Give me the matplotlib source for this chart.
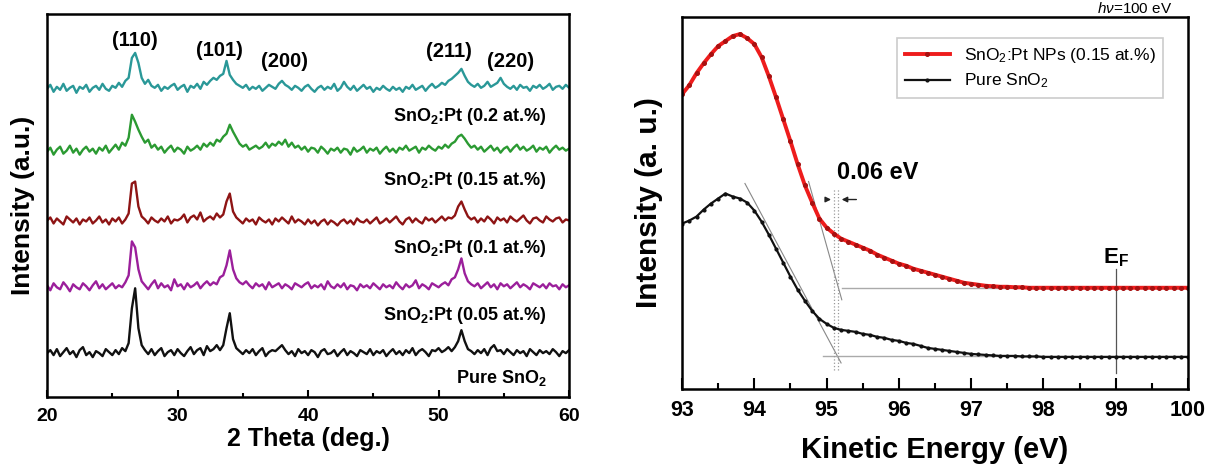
import numpy as np
import matplotlib
matplotlib.use("Agg")
import matplotlib.pyplot as plt
from matplotlib.ticker import MultipleLocator

plt.rcParams["font.family"] = ["Liberation Sans", "DejaVu Sans"]
plt.rcParams["mathtext.fontset"] = "custom"
plt.rcParams["mathtext.rm"] = "Liberation Sans"
plt.rcParams["mathtext.it"] = "Liberation Sans:italic"
plt.rcParams["mathtext.bf"] = "Liberation Sans:bold"
plt.rcParams["mathtext.default"] = "regular"


# -----------------------------
# XRD data (intensity above each trace baseline, a.u.)
# -----------------------------

two_theta = np.linspace(20, 60, 161)

xrd_pure = [
    0, 3, -2, 4, -3, 1, 5, -1, 2, -4,
    3, 6, -2, 1, -4, 2, 0, -3, 4, 1,
    -2, 3, -1, 5, 2, 10, 45, 65, 25, 8,
    3, -1, 4, -2, 2, 5, -3, 1, 3, -2,
    4, 0, -3, 2, 6, -1, 3, 5, -2, 7,
    2, 4, 8, 3, 8, 25, 40, 14, 5, 2,
    -1, 3, 0, 4, -2, 2, 5, -3, 1, 3,
    2, 5, 8, 3, -1, 2, -3, 4, 0, 2,
    -2, 3, 1, -4, 2, 4, -1, 0, 3, -3,
    1, 4, -2, 2, 0, -3, 3, 1, -1, 4,
    -2, 2, 0, 3, -3, 1, 4, -1, 2, -2,
    3, 0, 5, -2, 2, 4, 1, -3, 3, 2,
    5, 1, 3, 6, 2, 6, 12, 23, 12, 4,
    2, -1, 3, 0, 4, -2, 5, 8, 2, 3,
    -1, 4, 1, -2, 3, 0, 2, -3, 4, 1,
    -2, 3, 0, 2, -1, 4, 1, -3, 2, 0, 3,
]
xrd_pt005 = [
    2, -3, 4, 0, -2, 5, 1, -4, 3, 0,
    -2, 4, 1, -3, 2, 6, -1, 3, -2, 1,
    4, -1, 2, 0, 5, 12, 46, 40, 18, 6,
    2, -2, 3, 7, -1, 4, 0, 2, -3, 8,
    1, 3, -2, 4, 0, 2, 5, -1, 3, 6,
    2, 5, 3, 10, 12, 22, 37, 18, 9, 5,
    3, 6, 2, -1, 4, 1, 3, -2, 5, 0,
    2, 4, -1, 3, 1, -2, 4, 2, 0, 3,
    5, -1, 2, 0, 3, -2, 6, 1, -1, 3,
    0, 4, -2, 2, 1, -3, 3, 0, 2, -1,
    4, 1, -2, 3, 0, 2, -1, 5, 1, -2,
    3, 0, 2, 7, -1, 3, 1, -2, 4, 2,
    0, 3, 5, 2, 8, 10, 18, 29, 14, 6,
    3, 1, 4, -1, 2, 5, 0, 3, -2, 4,
    1, 3, -1, 2, 5, 0, 3, 1, -2, 4,
    2, 0, 3, -1, 4, 1, 2, -2, 3, 0, 2,
]
xrd_pt01 = [
    1, 4, -2, 3, 0, -3, 5, 2, -1, 3,
    -3, 2, 0, 4, -2, 1, 5, -1, 2, -3,
    3, 0, 4, -2, 2, 8, 38, 40, 15, 5,
    2, -2, 4, 1, -1, 3, 0, 5, -2, 2,
    1, 3, 7, -1, 4, 6, 2, 9, 0, 3,
    5, 2, 8, 4, 7, 20, 28, 10, 4, 1,
    -2, 3, 0, 2, -3, 4, 1, -1, 2, -3,
    3, 0, 4, 1, -2, 5, -1, 2, 0, -3,
    2, -2, 1, -4, 0, 2, -3, 1, -1, -4,
    0, 2, -2, 1, -3, 3, 0, -1, 2, -2,
    1, 4, -2, 0, 3, -1, 2, 5, 0, -3,
    2, 4, -1, 3, 0, -2, 4, 1, 3, -1,
    2, 5, 1, 4, 3, 6, 15, 20, 12, 5,
    2, 4, -1, 3, 0, 5, 2, -2, 4, 1,
    3, -1, 5, 2, 0, 3, 6, 1, -2, 3,
    4, 1, -1, 5, 2, 0, 3, 4, -1, 2, 1,
]
xrd_pt015 = [
    0, 4, -3, 2, 5, -2, 1, 6, -1, 3,
    -3, 2, 5, 0, 3, -2, 4, 1, 6, -1,
    3, 7, 2, 9, 6, 14, 37, 30, 22, 15,
    9, 12, 4, 7, 2, 5, -1, 3, 6, 0,
    4, 2, -2, 5, 1, 3, 6, 2, 8, 5,
    9, 6, 12, 10, 15, 18, 27, 20, 14, 8,
    5, 7, 2, 4, 6, 3, 5, 9, 4, 8,
    6, 10, 7, 12, 5, 9, 4, 6, 2, 5,
    0, 4, 3, -1, 5, 2, -2, 3, 1, 4,
    -1, 3, 2, -3, 4, 0, 2, 5, -1, 3,
    1, 4, -2, 2, 5, 0, 3, -1, 4, 2,
    6, 1, 3, 5, -1, 4, 2, 6, 3, 1,
    5, 3, 7, 4, 8, 10, 15, 17, 13, 8,
    4, 6, 2, 5, 0, 3, 6, 1, 4, -1,
    3, 5, 0, 4, 7, 2, 5, 1, 3, 6,
    0, 4, 2, 5, -1, 3, 6, 2, 4, 1, 3,
]
xrd_pt02 = [
    1, 5, -2, 3, 0, 6, -1, 2, 4, -3,
    3, 1, 5, -2, 2, 4, 0, 6, 1, -1,
    4, 2, 7, 3, 9, 12, 32, 37, 27, 12,
    6, 10, 4, 2, 5, -1, 3, 1, 4, 6,
    0, 3, 5, -2, 4, 2, 6, 1, 8, 5,
    9, 12, 10, 14, 16, 29, 15, 10, 6, 4,
    2, 5, 0, 3, 1, 4, -1, 2, 5, 3,
    1, 6, 9, 5, 3, 0, 4, 2, -1, 3,
    5, 1, -2, 2, 4, 0, 3, 1, 6, -1,
    2, 8, 3, 0, 4, -1, 2, 5, 1, 3,
    -2, 2, 0, 4, 1, -1, 3, 0, 2, -2,
    3, 1, 5, 0, 2, 4, -1, 3, 6, 2,
    4, 7, 5, 9, 11, 14, 17, 21, 14, 8,
    5, 3, 6, 2, 4, 8, 3, 5, 7, 12,
    6, 3, 1, 4, 0, 5, 2, 3, -1, 4,
    2, 5, 1, 3, 6, 0, 3, 4, 1, 5, 2,
]

xrd_series = [xrd_pure, xrd_pt005, xrd_pt01, xrd_pt015, xrd_pt02]
xrd_colors = ["#111111", "#9b1f9b", "#8e1414", "#2b9a32", "#2a9898"]
xrd_offsets = [44, 110, 176, 246, 308]

sample_labels = ["Pure SnO$_2$", "SnO$_2$:Pt (0.05 at.%)", "SnO$_2$:Pt (0.1 at.%)",
                 "SnO$_2$:Pt (0.15 at.%)", "SnO$_2$:Pt (0.2 at.%)"]
sample_label_y = [19, 82, 149, 217, 281]

peak_labels = ["(110)", "(101)", "(200)", "(211)", "(220)"]
peak_label_x = [26.7, 33.2, 38.2, 50.8, 55.5]
peak_label_y = [357, 347, 336, 346, 336]


# -----------------------------
# UPS data
# -----------------------------

energy = np.linspace(93, 100, 71)

ups_pt = [
    294, 303, 315, 325, 334, 342, 347, 352, 354, 350,
    344, 331, 312, 291, 269, 247, 224, 203, 186, 170,
    161, 155, 150, 147, 144, 141, 138, 134, 131, 128,
    125, 123, 120, 118, 116, 114, 112, 110, 108, 106,
    105, 104, 103, 102.5, 102, 102, 101.5, 101.5, 101, 101,
    101, 101, 101, 101, 101, 101, 101, 101, 101, 101,
    101, 101, 101, 101, 101, 101, 101, 101, 101, 101,
    101,
]
ups_pure = [
    165, 168, 172, 179, 185, 190, 195, 192, 190, 186,
    178, 167, 154, 140, 126, 112, 99, 88, 78, 70,
    65, 61, 59, 58, 57, 55, 54, 52, 51, 49,
    48, 46, 45, 43, 41, 40, 39, 38, 37, 36,
    35, 34.5, 34, 33.5, 33, 33, 33, 32.5, 32.5, 32.5,
    32, 32, 32, 32, 32, 32, 32, 32, 32, 32,
    32, 32, 32, 32, 32, 32, 32, 32, 32, 32,
    32,
]

pt_tangent_x = [94.75, 95.21]
pt_tangent_y = [207, 89]
pure_tangent_x = [93.87, 95.2]
pure_tangent_y = [205, 26]
pt_base_x = [95.21, 100]
pt_base_y = [101, 101]
pure_base_x = [94.95, 100]
pure_base_y = [33, 33]
onset_x = [95.10, 95.16]
onset_y = [19, 199]
fermi_x = 99.0
fermi_y = [16, 120]


fig = plt.figure(figsize=(12.16, 4.72), dpi=100)

# -----------------------------
# Left: XRD patterns
# -----------------------------

ax1 = fig.add_axes([0.0387, 0.1589, 0.4293, 0.8114])
for values, color, offset in zip(xrd_series, xrd_colors, xrd_offsets):
    ax1.plot(two_theta, np.array(values) + offset, color=color, lw=1.7)

for label, y in zip(sample_labels, sample_label_y):
    ax1.text(58.25, y, label, ha="right", va="center", fontsize=13, fontweight="bold")
for label, x, y in zip(peak_labels, peak_label_x, peak_label_y):
    ax1.text(x, y, label, ha="center", va="center", fontsize=14.5, fontweight="bold")

ax1.set_xlim(20, 60)
ax1.set_ylim(0, 384)
ax1.set_yticks([])
ax1.xaxis.set_major_locator(MultipleLocator(10))
ax1.xaxis.set_minor_locator(MultipleLocator(5))
ax1.tick_params(axis="x", which="major", direction="in", length=5, width=1.5,
                labelsize=14, pad=8)
ax1.tick_params(axis="x", which="minor", direction="in", length=3, width=1.5)
for lab in ax1.get_xticklabels():
    lab.set_fontweight("bold")
for spine in ax1.spines.values():
    spine.set_linewidth(1.8)
ax1.set_xlabel("2 Theta (deg.)", fontsize=18, fontweight="bold")
ax1.set_ylabel("Intensity (a.u.)", fontsize=19, fontweight="bold")
ax1.xaxis.set_label_coords(0.5, -0.078)
ax1.yaxis.set_label_coords(-0.024, 0.5)

# -----------------------------
# Right: UPS spectra
# -----------------------------

ax2 = fig.add_axes([0.5609, 0.1758, 0.4161, 0.7881])
ax2.plot(pt_tangent_x, pt_tangent_y, color="#888888", lw=0.8)
ax2.plot(pure_tangent_x, pure_tangent_y, color="#888888", lw=0.8)
ax2.plot(pt_base_x, pt_base_y, color="#aaaaaa", lw=1.0)
ax2.plot(pure_base_x, pure_base_y, color="#aaaaaa", lw=1.0)
for x in onset_x:
    ax2.plot([x, x], onset_y, color="#999999", lw=0.9, ls=":")
ax2.plot([fermi_x, fermi_x], fermi_y, color="#555555", lw=0.9)

ax2.plot(energy, ups_pt, color="#ee1c1c", lw=2.8, marker="o", ms=2.6,
         mfc="#a81010", mec="#a81010", label="SnO$_2$:Pt NPs (0.15 at.%)")
ax2.plot(energy, ups_pure, color="#111111", lw=1.6, marker="o", ms=2.0,
         label="Pure SnO$_2$")

ax2.annotate("", xy=(95.1, 189), xytext=(94.97, 189),
             arrowprops=dict(arrowstyle="-|>", color="#222222", lw=1.0, mutation_scale=8))
ax2.annotate("", xy=(95.17, 189), xytext=(95.45, 189),
             arrowprops=dict(arrowstyle="-|>", color="#222222", lw=1.0, mutation_scale=8))
ax2.text(95.7, 216, "0.06 eV", ha="center", va="center", fontsize=17, fontweight="bold")
ax2.text(99.0, 125, "E$_F$", ha="center", va="baseline", fontsize=16, fontweight="bold")
ax2.text(0.968, 1.043, r"$\mathit{h\nu}$=100 eV", transform=ax2.transAxes,
         ha="right", va="top", fontsize=11)

leg = ax2.legend(loc="upper right", bbox_to_anchor=(0.951, 0.944), borderaxespad=0,
                 fontsize=12.5, fancybox=False, framealpha=1, edgecolor="#cccccc",
                 handlelength=2.6, borderpad=0.45, labelspacing=0.4)
leg.get_frame().set_linewidth(1.2)

ax2.set_xlim(93, 100)
ax2.set_ylim(0, 371)
ax2.set_yticks([])
ax2.xaxis.set_major_locator(MultipleLocator(1))
ax2.xaxis.set_minor_locator(MultipleLocator(0.5))
ax2.tick_params(axis="x", which="major", direction="in", length=8, width=1.5,
                labelsize=15.5, pad=8)
ax2.tick_params(axis="x", which="minor", direction="in", length=4, width=1.5)
for lab in ax2.get_xticklabels():
    lab.set_fontweight("bold")
for spine in ax2.spines.values():
    spine.set_linewidth(1.8)
ax2.set_xlabel("Kinetic Energy (eV)", fontsize=21, fontweight="bold")
ax2.set_ylabel("Intensity (a. u.)", fontsize=21.5, fontweight="bold")
ax2.xaxis.set_label_coords(0.5, -0.126)
ax2.yaxis.set_label_coords(-0.038, 0.5)

plt.savefig("out.png", dpi=100)
plt.close()
